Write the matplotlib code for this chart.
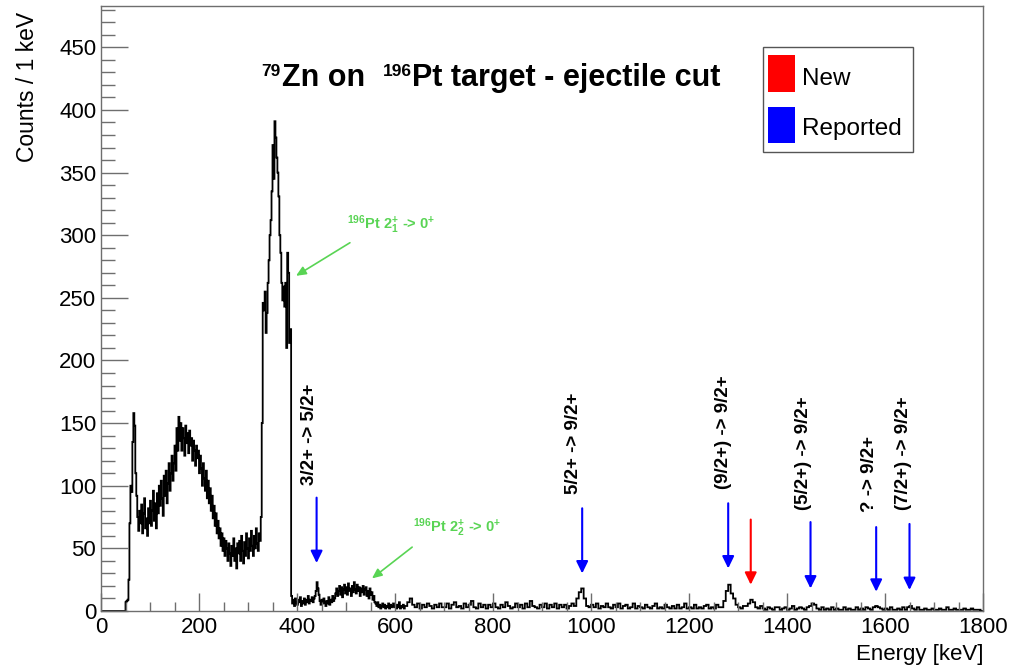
import numpy as np
import matplotlib
matplotlib.use("Agg")
import matplotlib.pyplot as plt
from matplotlib.patches import Rectangle

plt.rcParams['font.family'] = ['Liberation Sans', 'DejaVu Sans']
plt.rcParams['mathtext.fontset'] = 'custom'
plt.rcParams['mathtext.rm'] = 'Liberation Sans:bold'
plt.rcParams['mathtext.it'] = 'Liberation Sans:bold'
plt.rcParams['mathtext.bf'] = 'Liberation Sans:bold'

# ---- spectrum ----
# low-energy part: 2 keV steps from 0 to 620 keV
fine_start, fine_stop, fine_step = 0, 620, 2
counts_fine = [
    0, 0, 0, 0, 0, 0, 0, 0, 0, 0,                 # 0-18
    0, 0, 0, 0, 0, 0, 0, 0, 0, 0,                 # 20-38
    0, 0, 0, 0, 0, 7, 8, 9, 25, 70,               # 40-58
    100, 95, 135, 158, 148, 110, 92, 75, 64, 80,  # 60-78
    70, 85, 62, 78, 90, 66, 74, 60, 82, 70,       # 80-98
    88, 68, 80, 96, 72, 86, 66, 94, 78, 100,      # 100-118
    84, 104, 90, 76, 108, 92, 112, 86, 102, 118,  # 120-138
    96, 110, 124, 104, 118, 132, 112, 146, 128, 155,  # 140-158
    136, 150, 128, 146, 138, 124, 148, 134, 142, 126,  # 160-178
    144, 132, 138, 120, 136, 128, 116, 132, 122, 128,  # 180-198
    110, 124, 114, 100, 118, 106, 96, 112, 90, 104,    # 200-218
    86, 98, 80, 92, 74, 84, 68, 78, 62, 72,       # 220-238
    58, 66, 52, 62, 48, 58, 44, 56, 50, 40,       # 240-258
    54, 46, 36, 52, 44, 58, 40, 50, 34, 54,       # 260-278
    46, 56, 40, 60, 48, 38, 55, 44, 62, 50,       # 280-298
    42, 58, 48, 64, 52, 44, 60, 50, 66, 54,       # 300-318
    48, 62, 56, 75, 150, 246, 240, 255, 222, 238,  # 320-338
    262, 280, 300, 312, 335, 372, 345, 391, 378, 362,  # 340-358
    350, 331, 300, 286, 262, 248, 259, 243, 262, 210,  # 360-378
    286, 270, 214, 225, 12, 6, 9, 4, 10, 7,       # 380-398
    5, 9, 7, 11, 4, 8, 6, 10, 5, 9,               # 400-418
    7, 12, 6, 9, 8, 11, 7, 10, 12, 16,            # 420-438
    23, 18, 13, 8, 5, 9, 6, 10, 7, 4,             # 440-458
    8, 6, 11, 5, 9, 7, 12, 8, 10, 14,             # 460-478
    18, 12, 16, 20, 13, 19, 11, 17, 21, 14,       # 480-498
    19, 13, 22, 16, 18, 12, 20, 15, 23, 17,       # 500-518
    14, 21, 16, 19, 12, 18, 15, 20, 13, 17,       # 520-538
    19, 12, 16, 10, 18, 13, 15, 9, 12, 7,         # 540-558
    6, 4, 7, 3, 5, 2, 4, 6, 3, 5,                 # 560-578
    2, 4, 3, 6, 2, 5, 3, 4, 6, 3,                 # 580-598
    4, 2, 5, 3, 7, 2, 4, 3, 5, 2,                 # 600-618
]
# high-energy part: 5 keV steps from 620 to 1800 keV
coarse_stop, coarse_step = 1800, 5
counts_coarse = [
    4, 7, 10, 5, 3, 6, 2, 5, 3, 6, 4, 2, 5, 3, 6, 3,                   # 620-695
    3, 6, 2, 5, 7, 3, 4, 2, 6, 3, 5, 8, 3, 2, 6, 3, 5, 2, 5, 3,        # 700-795
    6, 3, 2, 5, 3, 7, 4, 2, 3, 6, 3, 5, 2, 6, 3, 8, 4, 3, 2, 5,        # 800-895
    3, 6, 2, 5, 3, 6, 2, 5, 3, 5, 2, 4, 6, 4, 10, 15, 18, 10, 4, 3,    # 900-995
    5, 3, 6, 2, 4, 3, 6, 3, 2, 5, 3, 6, 2, 4, 5, 2, 3, 6, 2, 4,        # 1000-1095
    3, 2, 5, 3, 2, 4, 6, 2, 3, 2, 5, 3, 2, 4, 2, 5, 2, 3, 6, 2,        # 1100-1195
    3, 2, 5, 2, 3, 2, 4, 5, 2, 3, 2, 5, 3, 3, 8, 16, 21, 14, 10, 5,    # 1200-1295
    3, 2, 4, 4, 6, 9, 7, 3, 2, 4, 2, 1, 3, 2, 1, 3, 3, 1, 2, 3,        # 1300-1395
    1, 2, 4, 1, 2, 3, 2, 1, 3, 4, 6, 5, 2, 1, 3, 1, 2, 1, 3, 1,        # 1400-1495
    2, 1, 1, 3, 1, 2, 1, 1, 3, 1, 2, 1, 3, 2, 1, 3, 4, 3, 2, 1,        # 1500-1595
    2, 1, 3, 1, 1, 2, 1, 3, 1, 3, 4, 2, 1, 3, 1, 1, 2, 1, 1, 2,        # 1600-1695
    1, 1, 2, 1, 1, 3, 1, 1, 2, 1, 1, 1, 2, 1, 1, 2, 1, 1, 1, 0,        # 1700-1795
]

# ---- transitions of 79Zn ----
reported_labels = ["3/2+ -> 5/2+", "5/2+ -> 9/2+", "(9/2+) -> 9/2+",
                   "(5/2+) -> 9/2+", "? -> 9/2+", "(7/2+) -> 9/2+"]
reported_energy = [440, 982, 1280, 1448, 1582, 1650]
new_energy = [1326]

# ---- 196Pt target lines ----
target_labels = [r"$^{196}$Pt 2$_{1}^{+}$ -> 0$^{+}$",
                 r"$^{196}$Pt 2$_{2}^{+}$ -> 0$^{+}$"]
target_energy = [398, 553]

# annotation layout (arrow start / tip heights, label anchors)
rep_arrow_top = [90.5, 82, 86, 71, 67, 69.5]
rep_arrow_tip = [38.3, 30, 34, 18, 15.4, 16.8]
rep_label_x = [426.5, 964, 1270, 1433, 1569, 1637]
rep_label_y = [100.7, 93.5, 97, 81, 79, 81]
new_arrow_top = [73]
new_arrow_tip = [21]
tgt_arrow_from = [(508, 294), (635, 51)]
tgt_arrow_tip_y = [267.6, 26]
tgt_label_pos = [(503, 305), (636, 63)]

W, H = 1010, 667
fig = plt.figure(figsize=(W / 100, H / 100), dpi=100)
ax = fig.add_axes([101 / W, 56 / H, 882 / W, 605 / H])

edges = np.concatenate([np.arange(fine_start, fine_stop, fine_step),
                        np.arange(fine_stop, coarse_stop + coarse_step, coarse_step)])
ax.stairs(counts_fine + counts_coarse, edges, color="black", lw=1.3)

ax.set_xlim(0, 1800)
ax.set_ylim(0, 483)
ax.set_xticks(np.arange(0, 1801, 200))
ax.set_xticks(np.arange(0, 1801, 50), minor=True)
ax.set_yticks(np.arange(0, 451, 50))
ax.set_yticks(np.arange(0, 481, 10), minor=True)

spine_col = "#6e6e6e"
for s in ax.spines.values():
    s.set_color(spine_col)
    s.set_linewidth(1.0)
ax.tick_params(axis="both", which="both", direction="in", colors=spine_col,
               labelcolor="black", labelsize=16, width=1.0)
ax.tick_params(axis="x", which="major", length=13, pad=4)
ax.tick_params(axis="x", which="minor", length=6.5)
ax.tick_params(axis="y", which="major", length=19.5, pad=3.5)
ax.tick_params(axis="y", which="minor", length=10)


def fx(px):
    return px / W


def fy(py):
    return 1 - py / H


fig.text(fx(983), fy(660), "Energy [keV]", fontsize=16, ha="right", va="baseline")
fig.text(fx(28), fy(12), "Counts / 1 keV", fontsize=16.5, rotation=90,
         ha="center", va="top")

# title, built from runs of normal and superscript text
title_runs = [("79", 261, 76.5, 12.5), ("Zn on", 282, 85.7, 22),
              ("196", 383, 76.5, 12.5), ("Pt target - ejectile cut", 411.5, 85.7, 22)]
for txt, px, py, size in title_runs:
    fig.text(fx(px), fy(py), txt, fontsize=size, fontweight="bold",
             ha="left", va="baseline")

# reported transitions
for lab, e, y0, y1, lx, ly in zip(reported_labels, reported_energy, rep_arrow_top,
                                  rep_arrow_tip, rep_label_x, rep_label_y):
    ax.annotate("", xy=(e, y1), xytext=(e, y0),
                arrowprops=dict(arrowstyle="-|>,head_length=0.45,head_width=0.22",
                                color="#0000ff", lw=1.5, mutation_scale=16,
                                shrinkA=0, shrinkB=0))
    ax.text(lx, ly, lab, rotation=90, ha="center", va="bottom",
            fontsize=13.5, fontweight="bold")

for e, y0, y1 in zip(new_energy, new_arrow_top, new_arrow_tip):
    ax.annotate("", xy=(e, y1), xytext=(e, y0),
                arrowprops=dict(arrowstyle="-|>,head_length=0.45,head_width=0.22",
                                color="#ff0000", lw=1.5, mutation_scale=16,
                                shrinkA=0, shrinkB=0))

green = "#59d454"
for lab, e, start, tip_y, pos in zip(target_labels, target_energy, tgt_arrow_from,
                                      tgt_arrow_tip_y, tgt_label_pos):
    ax.annotate("", xy=(e, tip_y), xytext=start,
                arrowprops=dict(arrowstyle="-|>,head_length=0.45,head_width=0.2",
                                color=green, lw=1.2, mutation_scale=13,
                                shrinkA=0, shrinkB=0))
    ax.text(pos[0], pos[1], lab, color=green, fontsize=10.5, fontweight="bold",
            ha="left", va="baseline")

# legend box
fig.patches.append(Rectangle((fx(763), fy(152)), fx(913) - fx(763), fy(47) - fy(152),
                             transform=fig.transFigure, facecolor="white",
                             edgecolor="#555555", lw=1.0))
fig.patches.append(Rectangle((fx(768), fy(92)), fx(795) - fx(768), fy(55) - fy(92),
                             transform=fig.transFigure, facecolor="#ff0000",
                             edgecolor="none"))
fig.patches.append(Rectangle((fx(768), fy(143)), fx(795) - fx(768), fy(107) - fy(143),
                             transform=fig.transFigure, facecolor="#0000ff",
                             edgecolor="none"))
fig.text(fx(802), fy(85), "New", fontsize=17.5, ha="left", va="baseline")
fig.text(fx(802), fy(135), "Reported", fontsize=17.5, ha="left", va="baseline")

fig.savefig("out.png", dpi=100)
